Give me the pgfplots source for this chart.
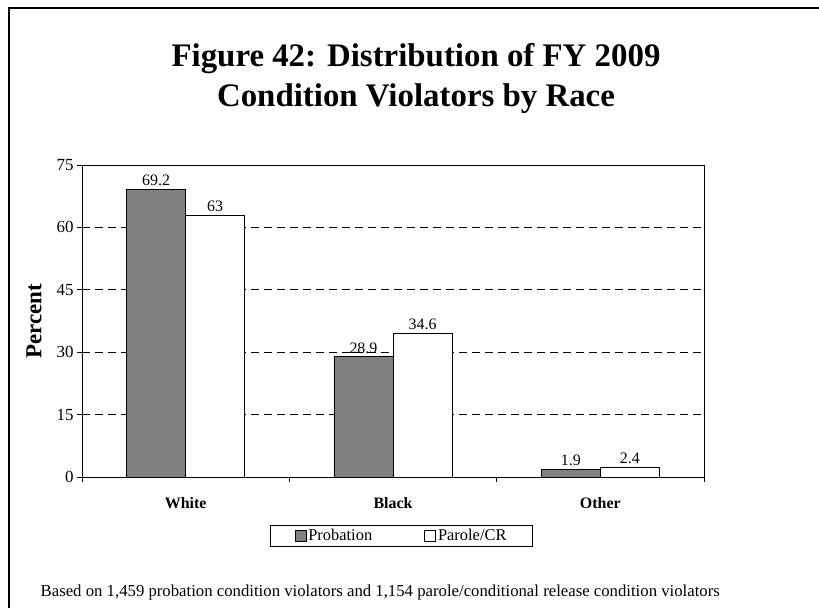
\documentclass[border=0pt]{standalone}
\usepackage{pgfplots}
\pgfplotsset{compat=1.18}
\usepackage{fontspec}
\setmainfont{Liberation Serif}

\pgfplotsset{
  sq legend/.style={
    legend image code/.code={\draw[##1] (0bp,-5.5bp) rectangle (11bp,5.5bp);}
  },
}

\begin{document}
\begin{tikzpicture}[x=1bp,y=1bp]
  \path[use as bounding box] (0,0) rectangle (819,608);
  % outer frame (only left and top edges are visible)
  \draw[line width=1.6bp] (9,0) -- (9,600) -- (819,600);

  \node[font=\bfseries\fontsize{33}{33}\selectfont, anchor=base]
    at (416,541) {Figure 42: Distribution of FY 2009};
  \node[font=\bfseries\fontsize{33}{33}\selectfont, anchor=base]
    at (416,501) {Condition Violators by Race};

  \node[font=\fontsize{16.8}{18}\selectfont, anchor=base west, inner sep=0pt]
    at (40.5,11) {Based on 1,459 probation condition violators and 1,154 parole/conditional release condition violators};

  \begin{axis}[
      at={(82bp,131bp)}, anchor=south west,
      scale only axis,
      width=622bp, height=312bp,
      ybar=0pt,
      bar width=0.285,
      xmin=-0.5, xmax=2.5,
      ymin=0, ymax=75,
      xtick={0,1,2},
      xticklabels={White,Black,Other},
      minor xtick={-0.5,0.5,1.5,2.5},
      major x tick style={draw=none},
      minor tick length=5bp,
      xtick align=outside,
      ytick={0,15,30,45,60,75},
      ytick align=outside,
      major tick length=5bp,
      tick pos=left,
      axis line style={black, line width=0.8bp},
      every tick/.style={black, line width=0.8bp},
      ymajorgrids,
      major grid style={black, dash pattern=on 8bp off 5bp, line width=0.6bp},
      /pgf/number format/assume math mode=true,
      xticklabel style={font=\bfseries\fontsize{16}{16}\selectfont, yshift=-12bp},
      yticklabel style={font=\fontsize{17}{17}\selectfont},
      ylabel={Percent},
      every axis y label/.style={at={(axis description cs:-0.077,0.5)}, rotate=90, anchor=center,
        font=\bfseries\fontsize{23}{23}\selectfont},
      nodes near coords,
      every node near coord/.append style={font=\fontsize{16}{16}\selectfont, black, inner ysep=3bp},
      legend columns=2,
      legend style={
        at={(0.5137,-0.189)}, anchor=center,
        draw=black, line width=0.8bp,
        font=\fontsize{16.5}{16.5}\selectfont,
        inner xsep=24bp, inner ysep=2bp,
        /tikz/every even column/.append style={column sep=50bp},
      },
    ]
    \addplot[fill={rgb,255:red,128;green,128;blue,128}, draw=black, line width=0.8bp, sq legend]
      coordinates {(0,69.2) (1,28.9) (2,1.9)};
    \addlegendentry{Probation}
    \addplot[fill=white, draw=black, line width=0.8bp, sq legend]
      coordinates {(0,63) (1,34.6) (2,2.4)};
    \addlegendentry{Parole/CR}
  \end{axis}
\end{tikzpicture}
\end{document}
